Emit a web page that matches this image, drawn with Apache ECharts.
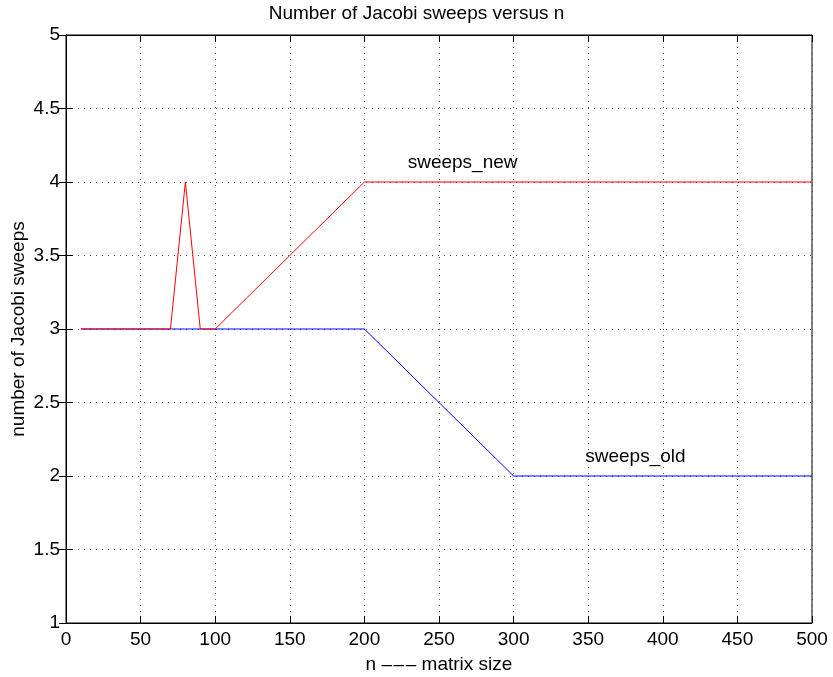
<!DOCTYPE html>
<html><head><meta charset="utf-8">
<script src="https://cdn.jsdelivr.net/npm/echarts@6/dist/echarts.min.js"></script>
<style>html,body{margin:0;padding:0;background:#fff}#c{width:833px;height:677px}</style>
</head><body><div id="c"></div>
<script>
const nValues = [10,20,30,40,50,60,70,80,90,100,200,300,400,500];
const sweepsNew = [3,3,3,3,3,3,3,4,3,3,4,4,4,4];
const sweepsOld = [3,3,3,3,3,3,3,3,3,3,3,2,2,2];
const xTicks = [0,50,100,150,200,250,300,350,400,450,500];
const yTicks = [1,1.5,2,2.5,3,3.5,4,4.5,5];
const labelNew = {text:'sweeps_new', n:229, v:4.13};
const labelOld = {text:'sweeps_old', n:348, v:2.13};

const font = 'Liberation Sans, Arial, Helvetica, sans-serif';
const FS = 19;
const chart = echarts.init(document.getElementById('c'), null, {renderer:'canvas'});
const pair = (xs, ys) => xs.map((x,i)=>[x, ys[i]]);
const gridLine = {show:true, lineStyle:{color:'#555', type:[1,5], width:1}};
const tick = {show:true, inside:true, length:7, lineStyle:{color:'#000'}};
chart.setOption({
  animation:false,
  title:{text:'Number of Jacobi sweeps versus n', left:'center', top:-1,
    textStyle:{fontFamily:font, fontSize:FS, fontWeight:'normal', color:'#000'}},
  grid:{left:66, right:21, top:35, bottom:54, show:true, borderColor:'#000', borderWidth:1,
    outerBoundsMode:'none', containLabel:false},
  xAxis:[{type:'value', min:0, max:500, interval:50, position:'bottom',
    name:'n \u2013\u200A\u2013\u200A\u2013 matrix size', nameLocation:'middle', nameGap:32,
    nameTextStyle:{fontFamily:font, fontSize:FS, color:'#000'},
    axisLine:{show:true, lineStyle:{color:'#000', width:1}}, axisTick:tick,
    axisLabel:{fontFamily:font, fontSize:FS, color:'#000', margin:7},
    splitLine:gridLine},
   {type:'value', min:0, max:500, interval:50, position:'top',
    axisLine:{show:true, lineStyle:{color:'#000'}}, axisTick:tick,
    axisLabel:{show:false}, splitLine:{show:false}}],
  yAxis:[{type:'value', min:1, max:5, interval:0.5, position:'left',
    name:'number of Jacobi sweeps', nameLocation:'middle', nameGap:38, nameRotate:90,
    nameMoveOverlap:false,
    nameTextStyle:{fontFamily:font, fontSize:FS, color:'#000'},
    axisLine:{show:true, lineStyle:{color:'#000', width:1}}, axisTick:tick,
    axisLabel:{fontFamily:font, fontSize:FS, color:'#000', margin:6},
    splitLine:gridLine},
   {type:'value', min:1, max:5, interval:0.5, position:'right',
    axisLine:{show:true, lineStyle:{color:'#000'}}, axisTick:tick,
    axisLabel:{show:false}, splitLine:{show:false}}],
  series:[
    {type:'line', name:'sweeps_old', data:pair(nValues, sweepsOld), symbol:'none',
     lineStyle:{color:'#0000ff', width:1}, z:2,
     markPoint:{symbol:'rect', symbolSize:0, data:[{coord:[labelOld.n, labelOld.v],
       label:{show:true, formatter:labelOld.text, position:'right', distance:0,
       fontFamily:font, fontSize:FS, color:'#000'}}]}},
    {type:'line', name:'sweeps_new', data:pair(nValues, sweepsNew), symbol:'none',
     lineStyle:{color:'#ff0000', width:1}, z:3,
     markPoint:{symbol:'rect', symbolSize:0, data:[{coord:[labelNew.n, labelNew.v],
       label:{show:true, formatter:labelNew.text, position:'right', distance:0,
       fontFamily:font, fontSize:FS, color:'#000'}}]}}
  ]
});
</script></body></html>
